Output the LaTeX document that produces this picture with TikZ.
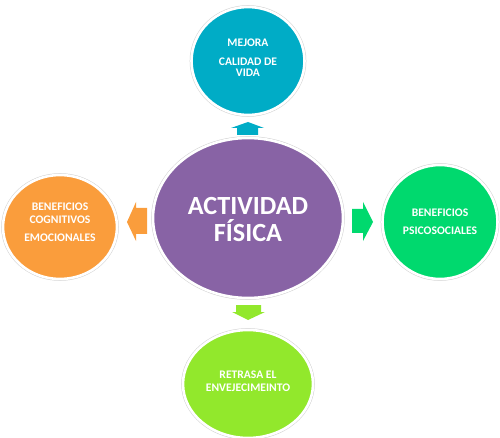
\documentclass[tikz,border=0pt]{standalone}
\usepackage{fontspec}
\setmainfont{Carlito}
\usetikzlibrary{shapes.geometric}
\definecolor{cteal}{RGB}{0,172,198}
\definecolor{corange}{RGB}{250,157,60}
\definecolor{cgreen}{RGB}{0,217,110}
\definecolor{clime}{RGB}{146,232,44}
\definecolor{cpurple}{RGB}{136,99,165}
\tikzset{
  bubble/.style={ellipse, inner sep=0pt, preaction={draw=black!18, line width=3.6pt}, draw=white, line width=2.6pt},
  small/.style={text=white, font=\bfseries\fontsize{11.6}{12}\selectfont, align=center, inner sep=0pt},
  big/.style={text=white, font=\bfseries\fontsize{26.2}{27}\selectfont, align=center, inner sep=0pt}
}
\begin{document}
\begin{tikzpicture}[x=1pt,y=-1pt]
\useasboundingbox (0,0) rectangle (500,438);
% circles
\node[bubble, fill=cpurple, minimum width=190pt, minimum height=160pt] (center) at (248,218) {};
\node[bubble, fill=cteal, minimum width=113pt, minimum height=108pt] (top) at (248,61) {};
\node[bubble, fill=corange, minimum width=114pt, minimum height=104pt] (left) at (60,227) {};
\node[bubble, fill=cgreen, minimum width=115pt, minimum height=114pt] (right) at (440,222) {};
\node[bubble, fill=clime, minimum width=130pt, minimum height=108pt] (bottom) at (248,384) {};
% texts
\node[big] (ctext) at (248,219) {ACTIVIDAD\\[0pt]FÍSICA};
\node[small] (ttext) at (248,58) {MEJORA\\[7pt]CALIDAD DE\\[-1pt]VIDA};
\node[small] (ltext) at (60,222.5) {BENEFICIOS\\[1pt]COGNITIVOS\\[6pt]EMOCIONALES};
\node[small] (rtext) at (440,222) {BENEFICIOS\\[6pt]PSICOSOCIALES};
\node[small] (btext) at (248,381.5) {RETRASA EL\\[1pt]ENVEJECIMEINTO};
% block arrows
\coordinate (upTip) at (248,122);
\fill[cteal] (upTip) -- (264,128) -- (258,128) -- (258,135) -- (237,135) -- (237,128) -- (231,128) -- cycle;
\coordinate (leftTip) at (127,222);
\fill[corange] (leftTip) -- (136,202) -- (136,208) -- (147,208) -- (147,234) -- (136,234) -- (136,241) -- cycle;
\coordinate (rightTip) at (373,222);
\fill[cgreen] (rightTip) -- (363,202) -- (363,209) -- (352,209) -- (352,233) -- (363,233) -- (363,241) -- cycle;
\coordinate (downTip) at (248,320);
\fill[clime] (downTip) -- (265,312) -- (261,312) -- (261,305) -- (236,305) -- (236,312) -- (232,312) -- cycle;
\end{tikzpicture}
\end{document}
